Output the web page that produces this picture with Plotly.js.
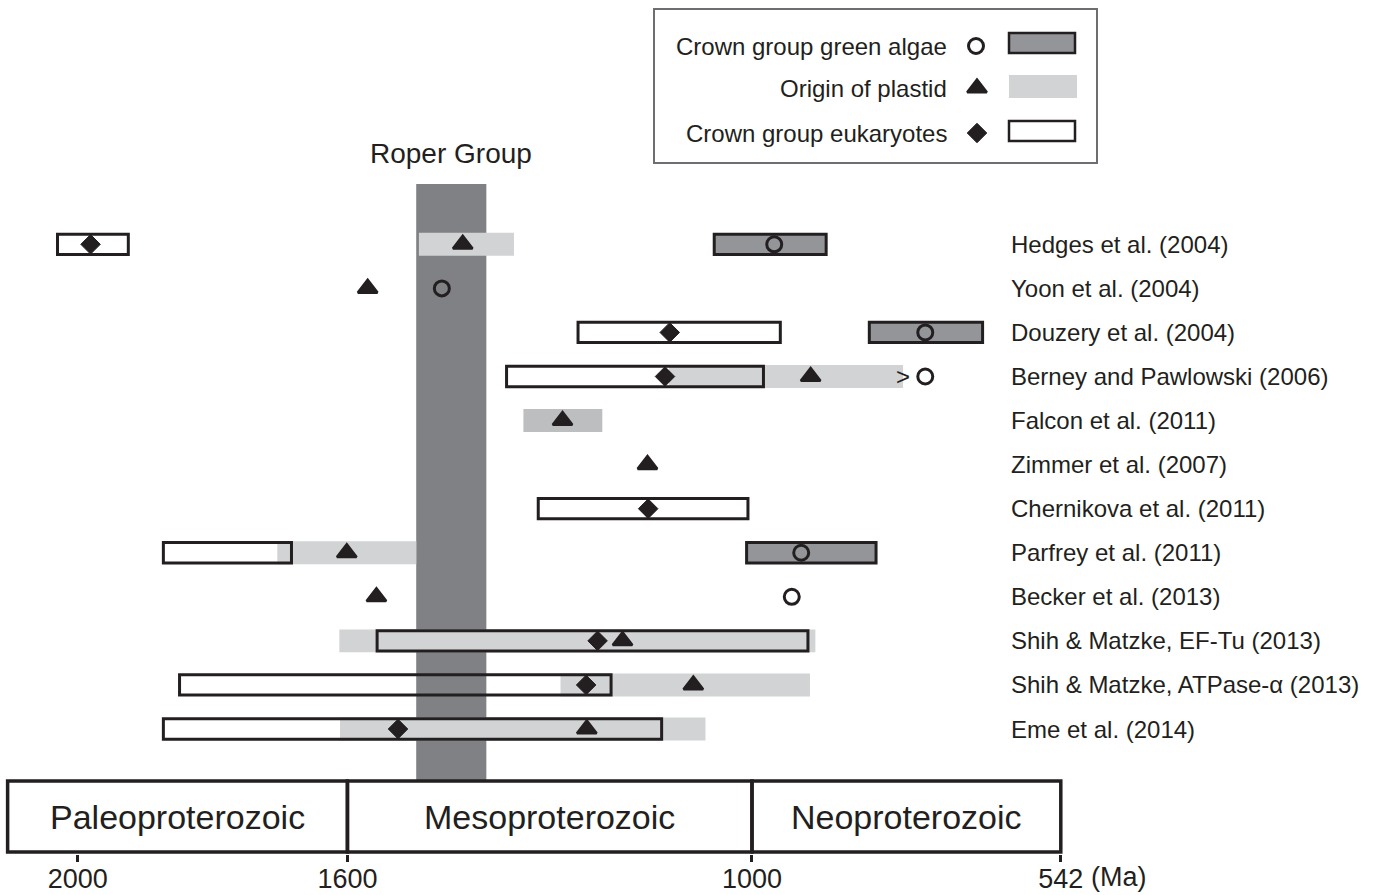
<!DOCTYPE html>
<html>
<head>
<meta charset="utf-8">
<script src="https://cdn.plot.ly/plotly-3.0.1.min.js"></script>
<style>html,body{margin:0;padding:0;background:#fff;}#chart{width:1381px;height:895px;}</style>
</head>
<body>
<div id="chart"></div>
<script>
// ---------------- data (ages in Ma) ----------------
const studies = [
  "Hedges et al. (2004)", "Yoon et al. (2004)", "Douzery et al. (2004)",
  "Berney and Pawlowski (2006)", "Falcon et al. (2011)", "Zimmer et al. (2007)",
  "Chernikova et al. (2011)", "Parfrey et al. (2011)", "Becker et al. (2013)",
  "Shih & Matzke, EF-Tu (2013)", "Shih & Matzke, ATPase-\u03b1 (2013)", "Eme et al. (2014)"
];
// Crown group eukaryotes (diamond + open box)
const eukPoint = [1981, null, 1122, 1129, null, null, 1154, null, null, 1229, 1246, 1525];
const eukOld   = [2030, null, 1258, 1364, null, null, 1317, 1873, null, 1556, 1849, 1873];
const eukYoung = [1925, null,  958,  983, null, null, 1006, 1683, null,  917, 1209, 1134];
// Origin of plastid (triangle + light grey bar)
const plastidPoint = [1429, 1570, null,  913, 1281, 1155, null, 1601, 1557, 1192, 1087, 1245];
const plastidOld   = [1494, null, null, 1123, 1339, null, null, 1704, null, 1612, 1284, 1611];
const plastidYoung = [1353, null, null,  776, 1222, null, null, 1498, null,  906,  914, 1069];
// Crown group green algae (circle + dark grey box)
const greenPoint = [967, 1460, 743, 743, null, null, null, 927, 941, null, null, null];
const greenOld   = [1056, null, 826, null, null, null, null, 1008, null, null, null, null];
const greenYoung = [ 890, null, 658, null, null, null, null,  816, null, null, null, null];
// "greater than" mark on the Berney and Pawlowski row
const gtMarkRow = 3;
const gtMarkAge = 776;
// Roper Group interval
const roperGroup = [1498, 1394];
// Geological eras
const eraNames  = ["Paleoproterozoic", "Mesoproterozoic", "Neoproterozoic"];
const eraBounds = [2104, 1600, 1000, 542];
// Axis ticks
const tickValues = [2000, 1600, 1000, 542];
const tickLabels = ["2000", "1600", "1000", "542"];
const unitLabel = "(Ma)";
// Legend
const legendLabels = ["Crown group green algae", "Origin of plastid", "Crown group eukaryotes"];

// ---------------- styles ----------------
const FONT = '"Liberation Sans", Arial, Helvetica, sans-serif';
const INK = '#231f20';
const LIGHT = '#d1d3d4';
const FALCON = '#bcbec0';
const DARK = '#939598';
const BAND = '#808184';
const plastidShade = studies.map((s, i) => i === 4 ? FALCON : LIGHT);
const PLOT_H = 854;   // plot-area height in px (margin.b = 41)

const rows = studies.map((s, i) => i);
function pick(arr) { return rows.filter(i => arr[i] !== null); }

function rangeBars(oldArr, youngArr, width, fill, lineW, colors) {
  const idx = pick(oldArr);
  return {
    type: 'bar', orientation: 'h',
    y: idx, base: idx.map(i => youngArr[i]), x: idx.map(i => oldArr[i] - youngArr[i]),
    width: width,
    marker: { color: colors ? idx.map(i => colors[i]) : fill, line: { color: INK, width: lineW } },
    hoverinfo: 'skip', showlegend: false
  };
}
function points(arr, symbol, size, lineW) {
  const idx = pick(arr);
  return {
    type: 'scatter', mode: 'markers', x: idx.map(i => arr[i]), y: idx,
    marker: { symbol: symbol, size: size, color: INK, line: { color: INK, width: lineW } },
    cliponaxis: false, hoverinfo: 'skip', showlegend: false
  };
}
function legendSymbol(px, py, symbol, size, lineW) {
  return {
    type: 'scatter', mode: 'markers', xaxis: 'x2', yaxis: 'y2', x: [px], y: [py],
    marker: { symbol: symbol, size: size, color: INK, opacity: 1, line: { color: INK, width: lineW } },
    cliponaxis: false, hoverinfo: 'skip', showlegend: false
  };
}

const traces = [
  rangeBars(plastidOld, plastidYoung, 0.52, LIGHT, 0, plastidShade),
  rangeBars(eukOld, eukYoung, 0.46, 'rgba(0,0,0,0)', 3),
  rangeBars(greenOld, greenYoung, 0.46, DARK, 3),
  points(plastidPoint, 'triangle-up', 17, 2.5),
  points(eukPoint, 'diamond', 15, 1),
  points(greenPoint, 'circle-open', 15, 3),
  // legend symbols (pixel overlay axes)
  legendSymbol(976, 46, 'circle-open', 15, 3),
  legendSymbol(977, 88, 'triangle-up', 17, 2.5),
  legendSymbol(977, 133, 'diamond', 15, 1)
];

const shapes = [
  // Roper Group band
  { type: 'rect', xref: 'x', yref: 'y2', x0: roperGroup[0], x1: roperGroup[1], y0: 184, y1: 781,
    fillcolor: BAND, line: { width: 0 }, layer: 'below' },
  // legend frame
  { type: 'rect', xref: 'x2', yref: 'y2', x0: 654, x1: 1097, y0: 9, y1: 163,
    fillcolor: 'rgba(0,0,0,0)', line: { color: '#6d6e71', width: 2 }, layer: 'below' },
  // legend swatches
  { type: 'rect', xref: 'x2', yref: 'y2', x0: 1009, x1: 1075, y0: 33, y1: 53,
    fillcolor: DARK, line: { color: INK, width: 2.5 } },
  { type: 'rect', xref: 'x2', yref: 'y2', x0: 1009, x1: 1077, y0: 75, y1: 98,
    fillcolor: LIGHT, line: { width: 0 } },
  { type: 'rect', xref: 'x2', yref: 'y2', x0: 1009, x1: 1075, y0: 121, y1: 141,
    fillcolor: '#fff', line: { color: INK, width: 2.5 } }
];
eraNames.forEach((n, i) => {
  shapes.push({ type: 'rect', xref: 'x', yref: 'y2', x0: eraBounds[i], x1: eraBounds[i + 1], y0: 781, y1: 852,
    fillcolor: 'rgba(0,0,0,0)', line: { color: INK, width: 3.5 } });
});

const annotations = [];
studies.forEach((s, i) => annotations.push({
  text: s, xref: 'x2', yref: 'y', x: 1009, y: i, xanchor: 'left', yanchor: 'middle',
  showarrow: false, font: { family: FONT, size: 24, color: INK }
}));
annotations.push({ text: 'Roper Group', xref: 'x', yref: 'y2', x: (roperGroup[0] + roperGroup[1]) / 2, y: 153,
  xanchor: 'center', yanchor: 'middle', showarrow: false, font: { family: FONT, size: 28, color: INK } });
eraNames.forEach((n, i) => annotations.push({
  text: n, xref: 'x', yref: 'y2', x: (eraBounds[i] + eraBounds[i + 1]) / 2, y: 817,
  xanchor: 'center', yanchor: 'middle', showarrow: false, font: { family: FONT, size: 34, color: INK }
}));
[46, 88, 133].forEach((yy, i) => annotations.push({
  text: legendLabels[i], xref: 'x2', yref: 'y2', x: 949, y: yy, xanchor: 'right', yanchor: 'middle',
  showarrow: false, font: { family: FONT, size: 24, color: INK }
}));
annotations.push({ text: '>', xref: 'x', yref: 'y', x: gtMarkAge, y: gtMarkRow, xanchor: 'center', yanchor: 'middle',
  showarrow: false, font: { family: FONT, size: 24, color: INK } });
annotations.push({ text: unitLabel, xref: 'x', yref: 'paper', x: tickValues[3], y: -(877 - PLOT_H) / PLOT_H, xshift: 28,
  xanchor: 'left', yanchor: 'middle', showarrow: false, font: { family: FONT, size: 27, color: INK } });

const layout = {
  width: 1381, height: 895,
  margin: { l: 0, r: 0, t: 0, b: 895 - PLOT_H, pad: 0 },
  paper_bgcolor: '#fff', plot_bgcolor: 'rgba(0,0,0,0)',
  barmode: 'overlay', showlegend: false,
  xaxis: {
    range: [2115.3, 67.1], tickmode: 'array', tickvals: tickValues, ticktext: tickLabels,
    ticks: 'outside', ticklen: 7, tickwidth: 3, tickcolor: INK, ticklabelstandoff: -6,
    showgrid: false, zeroline: false, showline: false, fixedrange: true,
    tickfont: { family: FONT, size: 27, color: INK }
  },
  yaxis: {
    range: [13.837, -5.545], showgrid: false, zeroline: false, showline: false,
    showticklabels: false, ticks: '', fixedrange: true
  },
  xaxis2: { overlaying: 'x', range: [0, 1381], visible: false, fixedrange: true },
  yaxis2: { overlaying: 'y', range: [PLOT_H, 0], visible: false, fixedrange: true },
  shapes: shapes,
  annotations: annotations
};

Plotly.newPlot('chart', traces, layout, { staticPlot: true, displayModeBar: false });
</script>
</body>
</html>
